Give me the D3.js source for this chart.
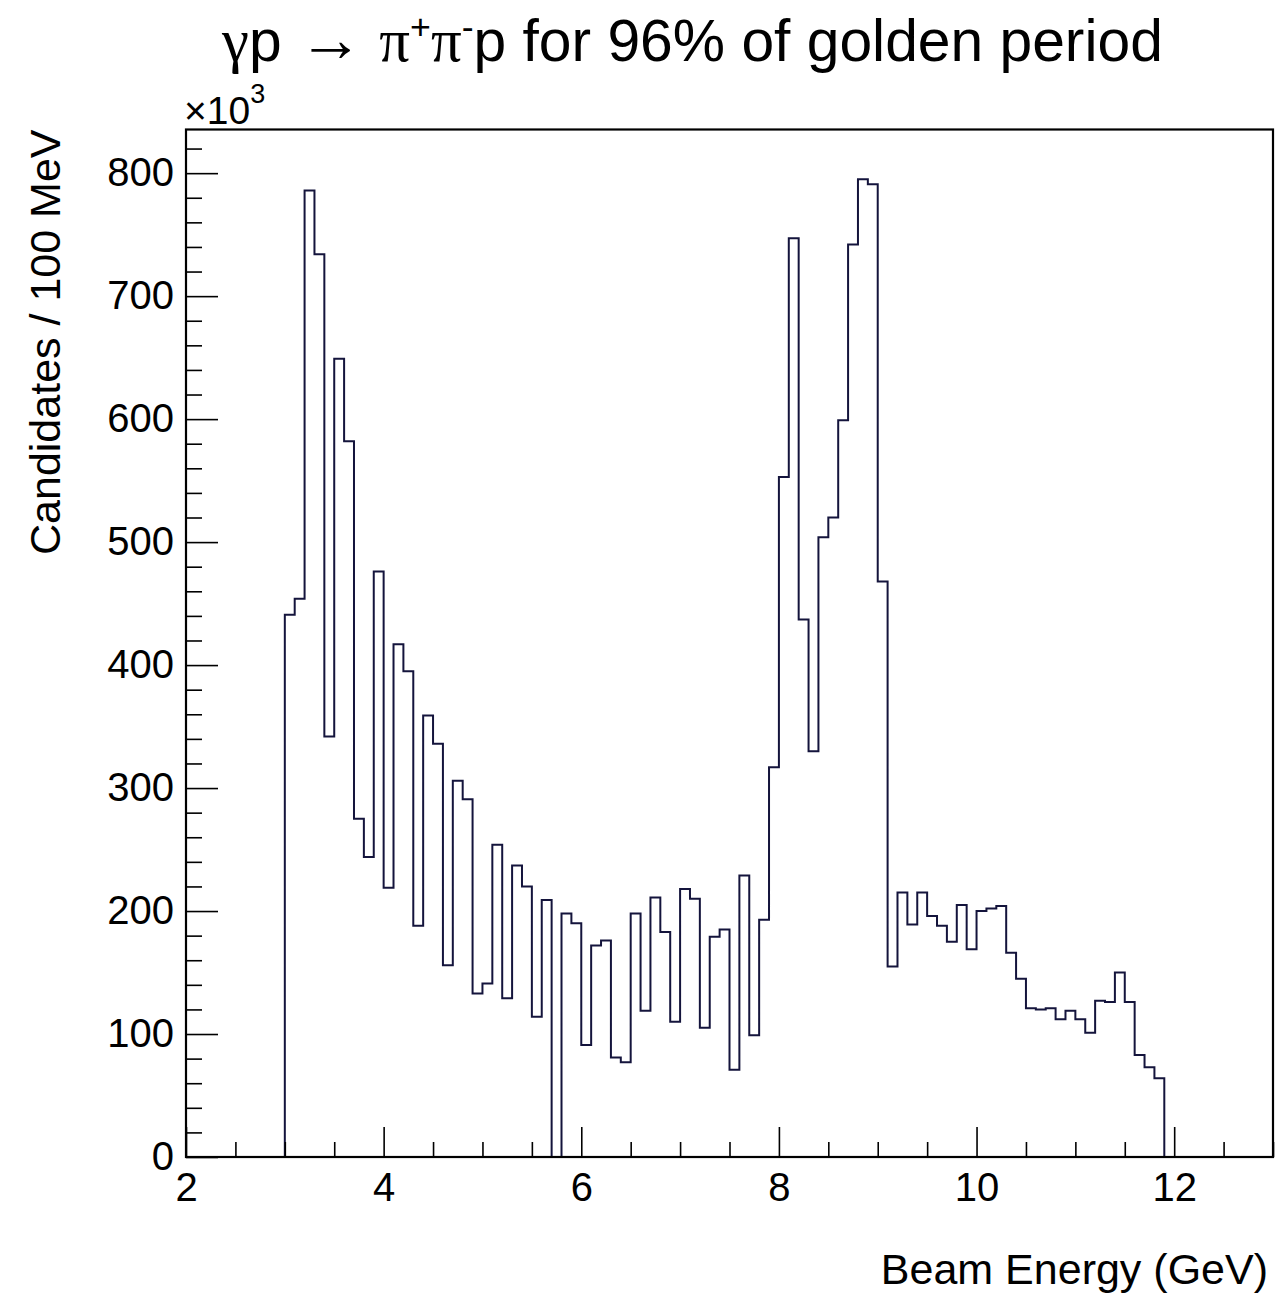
<!DOCTYPE html>
<html>
<head>
<meta charset="utf-8">
<script src="https://cdn.jsdelivr.net/npm/d3@7"></script>
<style>
  body { margin: 0; background: #ffffff; }
  svg text { font-family: "Liberation Sans", Arial, Helvetica, sans-serif; fill: #000; }
</style>
</head>
<body>
<svg id="chart" width="1279" height="1296"></svg>
<script>
// ---------------- data ----------------
const xTitle = "Beam Energy (GeV)";
const yTitle = "Candidates / 100 MeV";
const xMajorTicks = [2, 4, 6, 8, 10, 12];
const yMajorTicks = [0, 100, 200, 300, 400, 500, 600, 700, 800];
const xDomain = [2, 13];
const yDomain = [0, 835.5];
const firstEdge = 3.0;     // GeV, lower edge of first filled bin
const binWidth = 0.1;      // GeV (100 MeV)
// candidates per bin, in units of 10^3, bins 3.0-3.1 ... 11.8-11.9
const counts = [
  441, 454, 786, 734, 342, 649, 582, 275, 244, 476,   // 3.0 - 3.9
  219, 417, 395, 188, 359, 336, 156, 306, 291, 133,   // 4.0 - 4.9
  141, 254, 129, 237, 220, 114, 209,   0, 198, 190,   // 5.0 - 5.9
   91, 172, 176,  81,  77, 198, 119, 211, 183, 110,   // 6.0 - 6.9
  218, 210, 105, 179, 185,  71, 229,  99, 193, 317,   // 7.0 - 7.9
  553, 747, 437, 330, 504, 520, 599, 742, 795, 791,   // 8.0 - 8.9
  468, 155, 215, 189, 215, 196, 188, 175, 205, 169,   // 9.0 - 9.9
  200, 202, 204, 166, 145, 121, 120, 121, 112, 119,   // 10.0 - 10.9
  112, 101, 127, 126, 150, 126,  83,  73,  64         // 11.0 - 11.8
];

// ---------------- layout ----------------
const frame = { left: 186, right: 1273, top: 129.5, bottom: 1157 };
const lineColor = "#14143c";

const svg = d3.select("#chart");
const x = d3.scaleLinear().domain(xDomain).range([frame.left, frame.right]);
const y = d3.scaleLinear().domain(yDomain).range([frame.bottom, frame.top]);

// histogram outline (step)
const pts = [[firstEdge, 0]];
counts.forEach((c, i) => {
  const lo = firstEdge + i * binWidth, hi = firstEdge + (i + 1) * binWidth;
  pts.push([lo, c], [hi, c]);
});
pts.push([firstEdge + counts.length * binWidth, 0]);

svg.append("path")
  .attr("d", d3.line().x(d => x(d[0])).y(d => y(d[1]))(pts))
  .attr("fill", "none")
  .attr("stroke", lineColor)
  .attr("stroke-width", 2)
  .attr("stroke-linejoin", "miter");

// minor ticks
const xMinor = d3.range(2, 13.001, 0.5).filter(v => !xMajorTicks.some(m => Math.abs(m - v) < 1e-6));
const yMinor = d3.range(0, 835, 20).filter(v => !yMajorTicks.some(m => Math.abs(m - v) < 1e-6));

const xAxisMinor = svg.append("g").attr("transform", `translate(0,${frame.bottom})`)
  .call(d3.axisBottom(x).tickValues(xMinor).tickSize(-15).tickFormat(""));
const xAxis = svg.append("g").attr("transform", `translate(0,${frame.bottom})`)
  .call(d3.axisBottom(x).tickValues(xMajorTicks).tickSize(-30).tickPadding(16).tickFormat(d3.format("d")));
const yAxisMinor = svg.append("g").attr("transform", `translate(${frame.left},0)`)
  .call(d3.axisLeft(y).tickValues(yMinor).tickSize(-16).tickFormat(""));
const yAxis = svg.append("g").attr("transform", `translate(${frame.left},0)`)
  .call(d3.axisLeft(y).tickValues(yMajorTicks).tickSize(-32).tickPadding(12).tickFormat(d3.format("d")));

[xAxisMinor, xAxis, yAxisMinor, yAxis].forEach(g => {
  g.select(".domain").remove();
  g.selectAll(".tick line").attr("stroke", "#000").attr("stroke-width", 1.6);
  g.selectAll(".tick text").attr("font-size", 40).attr("fill", "#000")
    .attr("font-family", '"Liberation Sans", Arial, Helvetica, sans-serif');
});

// frame
svg.append("rect")
  .attr("x", frame.left).attr("y", frame.top)
  .attr("width", frame.right - frame.left).attr("height", frame.bottom - frame.top)
  .attr("fill", "none").attr("stroke", "#000").attr("stroke-width", 2.2);

// exponent label
const expo = svg.append("text").attr("x", frame.left - 2).attr("y", 124).attr("font-size", 39);
expo.append("tspan").text("\u00D710");
expo.append("tspan").attr("font-size", 27).attr("dy", -21).text("3");

// axis titles
svg.append("text")
  .attr("x", 1268).attr("y", 1284)
  .attr("text-anchor", "end").attr("font-size", 43)
  .text(xTitle);
svg.append("text")
  .attr("transform", `translate(60,${frame.top}) rotate(-90)`)
  .attr("text-anchor", "end").attr("font-size", 43)
  .text(yTitle);

// title: γp → π+π-p for 96% of golden period
const serif = '"Liberation Serif", "DejaVu Serif", serif';
const title = svg.append("text").attr("x", 222).attr("y", 61).attr("font-size", 56);
title.append("tspan").attr("font-family", serif).attr("font-size", 58).text("\u03B3");
title.append("tspan").text("p ");
title.append("tspan").attr("font-family", serif).attr("font-size", 62).text("\u2192");
title.append("tspan").text("  ");
title.append("tspan").attr("font-family", serif).attr("font-size", 58).text("\u03C0");
title.append("tspan").attr("font-size", 34).attr("dy", -22).text("+");
title.append("tspan").attr("font-family", serif).attr("font-size", 58).attr("dy", 22).text("\u03C0");
title.append("tspan").attr("font-size", 34).attr("dy", -22).text("-");
title.append("tspan").attr("dy", 22).text("p for 96% of golden period");

// fit title width to reference span (222 .. 1163)
const tl = title.node().getComputedTextLength();
if (tl > 0) {
  const k = 941 / tl;
  title.attr("font-size", 56 * k);
  title.selectAll("tspan").each(function () {
    const fs = d3.select(this).attr("font-size");
    if (fs) d3.select(this).attr("font-size", fs * k);
  });
}
</script>
</body>
</html>
